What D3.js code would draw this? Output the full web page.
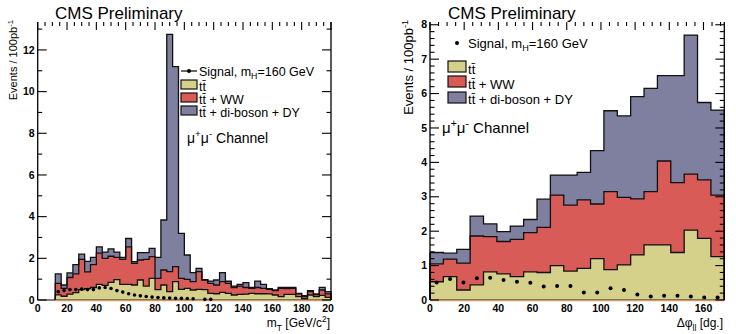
<!DOCTYPE html>
<html>
<head>
<meta charset="utf-8">
<script src="https://cdn.jsdelivr.net/npm/d3@7"></script>
<style>
  body { margin: 0; background: #fff; }
  svg { display: block; font-family: "Liberation Sans", Arial, Helvetica, sans-serif; }
</style>
</head>
<body>
<svg id="chart" width="736" height="334"></svg>
<script>
// ---- left plot: m_T, 4 GeV bins from 12 to 200 GeV/c^2 ----
const mtBinWidth = 4;
const mtBinLow = d3.range(12, 200, mtBinWidth);
// stacked tops (cumulative)
const mtDiBosonDY = [1.25, 0.72, 1.30, 1.70, 2.20, 1.85, 2.05, 2.55, 2.30, 2.45, 2.30, 2.05, 2.95, 1.84, 2.27, 2.27,
  2.48, 2.05, 3.84, 12.75, 11.2, 3.20, 2.16, 1.31, 1.52, 0.98, 0.91, 0.96, 1.31, 0.90, 0.67, 0.75,
  0.83, 0.60, 0.91, 0.75, 0.54, 0.48, 0.60, 0.60, 0.60, 0.32, 0.21, 0.45, 0.29, 0.61, 0.40];
const mtTtWW = [0.80, 0.56, 1.08, 1.25, 1.95, 1.35, 1.70, 2.25, 2.00, 2.10, 2.05, 1.95, 2.55, 1.76, 1.92, 1.95,
  2.08, 1.04, 1.44, 1.36, 1.60, 1.04, 0.99, 0.88, 1.36, 0.96, 0.80, 0.72, 0.88, 0.80, 0.60, 0.67,
  0.60, 0.56, 0.60, 0.56, 0.51, 0.45, 0.56, 0.55, 0.56, 0.29, 0.16, 0.40, 0.26, 0.48, 0.29];
const mtTt = [0.25, 0.18, 0.28, 0.35, 0.50, 0.55, 0.60, 0.75, 0.70, 0.85, 0.98, 0.75, 0.75, 0.72, 0.96, 0.67,
  1.04, 0.50, 0.72, 0.40, 0.88, 0.51, 0.56, 0.48, 0.51, 0.50, 0.32, 0.30, 0.37, 0.32, 0.24, 0.27,
  0.28, 0.32, 0.30, 0.30, 0.29, 0.24, 0.16, 0.27, 0.27, 0.16, 0.06, 0.24, 0.16, 0.22, 0.13];
const mtSignal = [0.40, 0.45, 0.50, 0.50, 0.52, 0.50, 0.50, 0.58, 0.60, 0.55, 0.45, 0.38, 0.30, 0.24, 0.20, 0.17,
  0.14, 0.12, 0.10, 0.09, 0.08, 0.08, 0.07, 0.06, null, 0.03, 0.03];

// ---- right plot: delta phi_ll, 180/23 degree bins ----
const dphiBinWidth = 180 / 23;
const dphiBinLow = d3.range(22).map(i => i * dphiBinWidth);
const dphiDiBosonDY = [1.38, 1.36, 1.47, 2.44, 2.21, 1.99, 2.15, 2.34, 2.93, 3.63, 3.63, 3.71, 4.34, 5.50, 5.35, 5.91,
  6.15, 6.52, 6.52, 7.70, 5.74, 5.52];
const dphiTtWW = [1.05, 1.19, 1.07, 1.86, 1.84, 1.70, 1.76, 1.96, 2.11, 3.05, 2.76, 2.91, 2.79, 3.15, 2.98, 2.94,
  3.15, 4.04, 3.41, 3.66, 3.49, 3.05];
const dphiTt = [0.53, 0.68, 0.29, 0.44, 0.82, 0.76, 0.68, 0.82, 0.80, 1.00, 0.84, 0.92, 1.20, 0.88, 1.02, 1.31,
  1.60, 1.60, 1.38, 2.03, 1.79, 1.26];
const dphiSignal = [0.51, 0.61, 0.51, 0.63, 0.65, 0.58, 0.53, 0.50, 0.39, 0.41, 0.41, 0.22, 0.22, 0.34, 0.29, 0.16,
  0.10, 0.12, 0.12, 0.10, 0.07, 0.07];

const colTt = '#d5d18a', colWW = '#d95b57', colDY = '#7f7f9f';

const svg = d3.select('#chart');

svg.append('defs').append('clipPath').attr('id', 'leftclip')
  .append('rect').attr('x', 0).attr('y', 0).attr('width', 334).attr('height', 334);

// Draws one histogram panel
function drawPanel(p) {
  const g = svg.append('g');
  if (p.clip) g.attr('clip-path', `url(#${p.clip})`);

  const x = d3.scaleLinear().domain(p.xDomain).range([p.left, p.right]);
  const y = d3.scaleLinear().domain(p.yDomain).range([p.bottom, p.top]);
  const n = p.binLow.length;
  const xEnd = p.binLow[n - 1] + p.binW;

  function steps(vals) {
    const pts = [{ x: p.binLow[0], v: 0 }];
    p.binLow.forEach((b, i) => pts.push({ x: b, v: vals[i] }));
    pts.push({ x: xEnd, v: vals[n - 1] });
    pts.push({ x: xEnd, v: 0 });
    return pts;
  }

  const area = d3.area().curve(d3.curveStepAfter)
    .x(d => x(d.x)).y0(y(0)).y1(d => y(d.v));
  const line = d3.line().curve(d3.curveStepAfter)
    .x(d => x(d.x)).y(d => y(d.v));

  const layers = [
    { vals: p.total, color: colDY },
    { vals: p.ttww, color: colWW },
    { vals: p.tt, color: colTt }
  ];
  layers.forEach(l => {
    g.append('path').attr('d', area(steps(l.vals))).attr('fill', l.color);
  });
  layers.forEach(l => {
    g.append('path').attr('d', line(steps(l.vals)))
      .attr('fill', 'none').attr('stroke', '#111').attr('stroke-width', 1.3);
  });

  // frame
  g.append('line').attr('x1', p.left).attr('x2', p.right).attr('y1', y(0)).attr('y2', y(0))
    .attr('stroke', '#000').attr('stroke-width', 1.2);
  g.append('line').attr('x1', x(p.binLow[0])).attr('x2', x(xEnd)).attr('y1', y(0) + 0.5).attr('y2', y(0) + 0.5)
    .attr('stroke', '#d09a68').attr('stroke-width', 1.5);
  [p.left, p.right].forEach(xx => {
    g.append('line').attr('x1', xx).attr('x2', xx).attr('y1', p.top).attr('y2', p.bottom)
      .attr('stroke', '#000').attr('stroke-width', 1.3);
  });

  // y ticks, both sides, inward
  d3.range(p.yDomain[0], p.yDomain[1] + 1e-9, p.yMinor).forEach(v => {
    const major = Math.abs(v / p.yMajor - Math.round(v / p.yMajor)) < 1e-6;
    const len = major ? 9 : 4.5;
    g.append('line').attr('x1', p.left).attr('x2', p.left + len).attr('y1', y(v)).attr('y2', y(v))
      .attr('stroke', '#000').attr('stroke-width', 1.1);
    g.append('line').attr('x1', p.right).attr('x2', p.right - len).attr('y1', y(v)).attr('y2', y(v))
      .attr('stroke', '#000').attr('stroke-width', 1.1);
    if (major) {
      g.append('text').attr('x', p.left - 3).attr('y', y(v)).attr('dy', '0.35em')
        .attr('text-anchor', 'end').attr('font-size', 10.5).attr('font-weight', 'bold')
        .text(d3.format('d')(v));
    }
  });

  // x ticks on top, labels at bottom
  d3.range(0, p.xDomain[1] + 1e-9, 5).forEach(v => {
    const major = v % 20 === 0;
    g.append('line').attr('x1', x(v)).attr('x2', x(v)).attr('y1', p.top).attr('y2', p.top + (major ? 8 : 4))
      .attr('stroke', '#000').attr('stroke-width', 1.1);
  });
  p.xLabels.forEach(v => {
    g.append('text').attr('x', x(v)).attr('y', 312).attr('text-anchor', 'middle')
      .attr('font-size', 10.5).attr('font-weight', 'bold').text(v);
  });

  // signal points
  p.signal.forEach((v, i) => {
    if (v === null) return;
    g.append('circle').attr('cx', x(p.binLow[i] + p.binW / 2)).attr('cy', y(v))
      .attr('r', p.dotR).attr('fill', '#000');
  });

  return g;
}

const gl = drawPanel({
  clip: 'leftclip', left: 37.7, right: 331, top: 22, bottom: 300,
  xDomain: [0, 200], yDomain: [0, 13.34], yMajor: 2, yMinor: 1,
  binLow: mtBinLow, binW: mtBinWidth,
  total: mtDiBosonDY, ttww: mtTtWW, tt: mtTt, signal: mtSignal,
  xLabels: d3.range(0, 201, 20), dotR: 1.8
});

const gr = drawPanel({
  left: 430, right: 724.3, top: 22, bottom: 300,
  xDomain: [0, 22 * dphiBinWidth], yDomain: [0, 8.08], yMajor: 1, yMinor: 0.2,
  binLow: dphiBinLow, binW: dphiBinWidth,
  total: dphiDiBosonDY, ttww: dphiTtWW, tt: dphiTt, signal: dphiSignal,
  xLabels: d3.range(0, 161, 20), dotR: 2
});

// ---- texts ----
function richText(g, x, y, size, parts, anchor) {
  const t = g.append('text').attr('x', x).attr('y', y).attr('font-size', size)
    .attr('text-anchor', anchor || 'start');
  parts.forEach(pt => {
    const s = t.append('tspan').text(pt.t);
    if (pt.sub) s.attr('dy', size * 0.3).attr('font-size', size * 0.7);
    if (pt.sup) s.attr('dy', -size * 0.4).attr('font-size', size * 0.7);
    if (pt.back) s.attr('dy', pt.back);
  });
  return t;
}

function legend(g, o) {
  if (o.markerLine) {
    g.append('line').attr('x1', o.x0).attr('x2', o.x0 + o.w).attr('y1', o.sigY).attr('y2', o.sigY)
      .attr('stroke', '#000').attr('stroke-width', 1.2);
  }
  g.append('circle').attr('cx', o.x0 + o.w / 2).attr('cy', o.sigY).attr('r', 2).attr('fill', '#000');
  richText(g, o.tx, o.sigY + 4.5, o.fs, [{ t: 'Signal, m' }, { t: 'H', sub: true }, { t: '=160 GeV', back: -o.fs * 0.3 }]);
  const rows = [
    { c: colTt, label: [{ t: 't' }, { t: 't\u0304' }] },
    { c: colWW, label: [{ t: 't' }, { t: 't\u0304' }, { t: ' + WW' }] },
    { c: colDY, label: [{ t: 't' }, { t: 't\u0304' }, { t: ' + di-boson + DY' }] }
  ];
  rows.forEach((r, i) => {
    g.append('rect').attr('x', o.x0).attr('y', o.boxY[i]).attr('width', o.w).attr('height', o.h)
      .attr('fill', r.c).attr('stroke', '#111').attr('stroke-width', 1.2);
    richText(g, o.tx, o.textY[i], o.fs, r.label);
  });
}

// left panel texts
gl.append('text').attr('x', 55).attr('y', 19).attr('font-size', 17).text('CMS Preliminary');
richText(gl, 0, 0, 11, [{ t: 'Events / 100pb' }, { t: '-1', sup: true }], 'end')
  .attr('transform', 'translate(17,20) rotate(-90)');
richText(gl, 330, 327, 12, [{ t: 'm' }, { t: 'T', sub: true }, { t: ' [GeV/c', back: -3.6 }, { t: '2', sup: true }, { t: ']', back: 4.8 }], 'end');
legend(gl, { x0: 181, w: 16, h: 9, sigY: 71, markerLine: true, tx: 199, fs: 12.5,
  boxY: [80, 93, 106], textY: [90.5, 103.5, 116.5] });
richText(gl, 187, 143, 14, [{ t: '\u03bc' }, { t: '+', sup: true }, { t: '\u03bc', back: 5.6 }, { t: '-', sup: true }, { t: ' Channel', back: 5.6 }]);

// right panel texts
gr.append('text').attr('x', 448).attr('y', 19).attr('font-size', 17).text('CMS Preliminary');
richText(gr, 0, 0, 13, [{ t: 'Events / 100pb' }, { t: '-1', sup: true }], 'end')
  .attr('transform', 'translate(413,20) rotate(-90)');
richText(gr, 723, 327, 12, [{ t: '\u0394\u03c6' }, { t: 'll', sub: true }, { t: ' [dg.]', back: -3.6 }], 'end');
legend(gr, { x0: 448, w: 18, h: 11, sigY: 43, markerLine: false, tx: 468, fs: 13,
  boxY: [61, 76, 92], textY: [74, 89, 104] });
richText(gr, 442, 133, 15, [{ t: '\u03bc' }, { t: '+', sup: true }, { t: '\u03bc', back: 6 }, { t: '-', sup: true }, { t: ' Channel', back: 6 }]);
</script>
</body>
</html>
